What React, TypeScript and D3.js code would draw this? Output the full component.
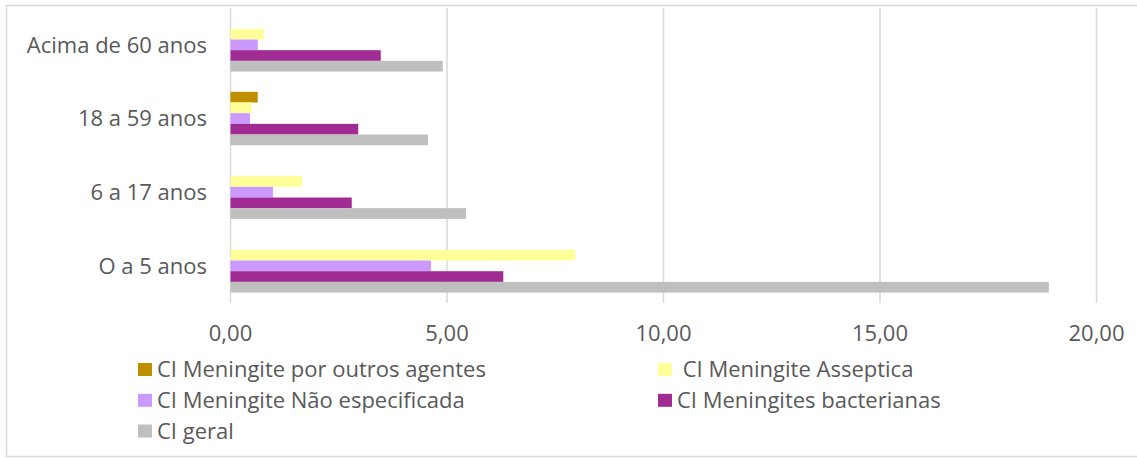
import React from "react";
import * as d3 from "d3";

const categories = ["Acima de 60 anos", "18 a 59 anos", "6 a 17 anos", "O a 5 anos"];
const seriesNames = [
  "CI Meningite por outros agentes",
  " CI Meningite Asseptica",
  "CI Meningite Não especificada",
  "CI Meningites bacterianas",
  "CI geral",
];
const seriesColors = ["#BF8F00", "#FFFF99", "#CC99FF", "#A02B93", "#BFBFBF"];
const outrosAgentes = [0, 0.63, 0, 0];
const asseptica = [0.77, 0.49, 1.65, 7.96];
const naoEspecificada = [0.63, 0.45, 0.98, 4.63];
const bacterianas = [3.47, 2.95, 2.8, 6.3];
const geral = [4.9, 4.56, 5.44, 18.9];
const xTicks = [0, 5, 10, 15, 20];

const seriesValues = [outrosAgentes, asseptica, naoEspecificada, bacterianas, geral];

const W = 1137;
const H = 458;
const FONT = "'Open Sans', 'Liberation Sans', sans-serif";
const TEXT = "#595959";
const GRID = "#D9D9D9";

const locale = d3.formatLocale({ decimal: ",", thousands: ".", grouping: [3], currency: ["R$", ""] });
const fmt = locale.format(".2f");

export default function App() {
  const x = d3.scaleLinear().domain([0, 20]).range([230.5, 1096.5]);
  const y = d3.scaleBand<string>().domain(categories).range([8, 302.7]).padding(0);
  const step = y.bandwidth();
  const barH = step / (5 + 1.9);
  const gap = (step - 5 * barH) / 2;
  const inner = d3
    .scaleBand<number>()
    .domain(d3.range(seriesNames.length))
    .range([gap, step - gap])
    .padding(0);

  const legendItems = [
    { i: 0, x: 138, y: 369.5 },
    { i: 1, x: 658, y: 369.5 },
    { i: 2, x: 138, y: 400.3 },
    { i: 3, x: 658, y: 400.3 },
    { i: 4, x: 138, y: 431 },
  ];

  return (
    <svg
      width={W}
      height={H}
      style={{ position: "fixed", left: 0, top: 0, background: "#fff" }}
      fontFamily={FONT}
    >
      <rect x={0} y={0} width={W} height={H} fill="#fff" />
      <rect x={6.5} y={5.5} width={W + 10} height={451} fill="none" stroke={GRID} strokeWidth={1.5} />
      {xTicks.map((t) => (
        <line key={"g" + t} x1={x(t)} x2={x(t)} y1={8} y2={303} stroke={GRID} strokeWidth={1.5} />
      ))}
      {categories.map((c, ci) => (
        <g key={c} transform={`translate(0,${y(c)})`}>
          {seriesValues.map((vals, si) =>
            vals[ci] > 0 ? (
              <rect
                key={si}
                x={x(0)}
                y={inner(si)}
                width={x(vals[ci]) - x(0)}
                height={inner.bandwidth()}
                fill={seriesColors[si]}
              />
            ) : null
          )}
          <text
            x={207}
            y={step / 2}
            dy="0.35em"
            textAnchor="end"
            fontSize={22}
            fill={TEXT}
          >
            {c}
          </text>
        </g>
      ))}
      {xTicks.map((t) => (
        <text key={"t" + t} x={x(t)} y={341} textAnchor="middle" fontSize={22} fill={TEXT}>
          {fmt(t)}
        </text>
      ))}
      {legendItems.map((l) => (
        <g key={"l" + l.i}>
          <rect x={l.x} y={l.y - 6.5} width={14} height={13} fill={seriesColors[l.i]} />
          <text
            x={l.x + 19}
            y={l.y}
            dy="0.35em"
            fontSize={22}
            fill={TEXT}
            style={{ whiteSpace: "pre" }}
          >
            {seriesNames[l.i]}
          </text>
        </g>
      ))}
    </svg>
  );
}
